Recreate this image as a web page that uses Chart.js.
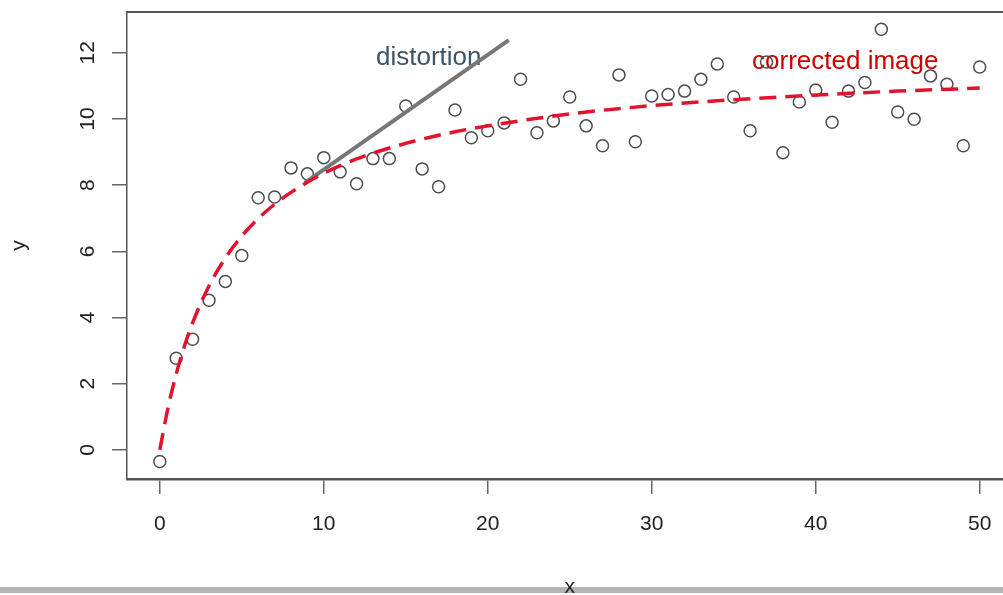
<!DOCTYPE html>
<html>
<head>
<meta charset="utf-8">
<script src="https://cdn.jsdelivr.net/npm/chart.js@4.4.1/dist/chart.umd.min.js"></script>
<style>
  html, body { margin: 0; padding: 0; background: #fff; overflow: hidden; }
  #wrap { width: 1020px; height: 598px; }
</style>
</head>
<body>
<div id="wrap"><canvas id="fitChart" width="1020" height="598"></canvas></div>
<script>
// observed points
const xObs = [0, 1, 2, 3, 4, 5, 6, 7, 8, 9, 10, 11, 12, 13, 14, 15, 16, 17, 18, 19, 20,
  21, 22, 23, 24, 25, 26, 27, 28, 29, 30, 31, 32, 33, 34, 35, 36, 37, 38, 39, 40,
  41, 42, 43, 44, 45, 46, 47, 48, 49, 50];
const yObs = [-0.35, 2.77, 3.34, 4.52, 5.09, 5.87, 7.62, 7.64, 8.52, 8.34, 8.83, 8.40, 8.04, 8.80, 8.80, 10.39, 8.49, 7.95, 10.27, 9.43, 9.64,
  9.88, 11.20, 9.58, 9.94, 10.66, 9.79, 9.19, 11.33, 9.31, 10.69, 10.74, 10.84, 11.20, 11.66, 10.66, 9.64, 11.72, 8.98, 10.51, 10.87,
  9.90, 10.84, 11.10, 12.71, 10.21, 9.99, 11.30, 11.05, 9.19, 11.57];

// red dashed curve ("corrected image")
const xCurve = [0, 0.5, 1, 1.5, 2, 3, 4, 5, 6, 7, 8, 10, 12, 14, 16, 18, 20, 25, 30, 35, 40, 45, 50];
const yCurve = [0.0, 1.27, 2.29, 3.13, 3.84, 4.95, 5.80, 6.46, 6.99, 7.42, 7.78, 8.36, 8.79, 9.12, 9.39, 9.61, 9.79, 10.15, 10.40, 10.58, 10.72, 10.84, 10.93];

// grey straight segment ("distortion")
const xDistort = [8.84, 21.28];
const yDistort = [8.07, 12.38];

const xTicks = [0, 10, 20, 30, 40, 50];
const yTicks = [0, 2, 4, 6, 8, 10, 12];

const labels = [
  { text: "distortion", x: 16.4, y: 11.84, color: "#3b5468" },
  { text: "corrected image", x: 41.8, y: 11.72, color: "#cc0000" }
];

const FONT = "'Liberation Sans', Arial, Helvetica, sans-serif";

const toXY = (xs, ys) => xs.map((x, i) => ({ x: x, y: ys[i] }));

// grey bar at the bottom, top frame line, and the two text labels
const extras = {
  id: "extras",
  beforeDraw(chart) {
    const c = chart.ctx;
    c.save();
    c.fillStyle = "#b3b3b3";
    c.fillRect(0, 587, chart.width, 6);
    c.restore();
  },
  beforeDatasetsDraw(chart) {
    const c = chart.ctx;
    const xs = chart.scales.x, ys = chart.scales.y;
    c.save();
    c.strokeStyle = "#555";
    c.lineWidth = 2;
    c.beginPath();
    c.moveTo(chart.chartArea.left, chart.chartArea.top);
    c.lineTo(chart.chartArea.right, chart.chartArea.top);
    c.moveTo(chart.chartArea.right, chart.chartArea.top);
    c.lineTo(chart.chartArea.right, chart.chartArea.bottom);
    c.stroke();
    c.font = "26px " + FONT;
    c.textAlign = "center";
    c.textBaseline = "middle";
    labels.forEach(l => {
      c.fillStyle = l.color;
      c.fillText(l.text, xs.getPixelForValue(l.x), ys.getPixelForValue(l.y));
    });
    c.restore();
  }
};

new Chart(document.getElementById("fitChart").getContext("2d"), {
  type: "scatter",
  data: {
    datasets: [
      {
        type: "line",
        data: toXY(xCurve, yCurve),
        borderColor: "#e3122d",
        borderWidth: 3.5,
        borderDash: [17, 9],
        pointRadius: 0,
        fill: false,
        cubicInterpolationMode: "monotone",
        order: 0
      },
      {
        type: "line",
        data: toXY(xDistort, yDistort),
        borderColor: "#777777",
        borderWidth: 4,
        pointRadius: 0,
        fill: false,
        order: 1
      },
      {
        data: toXY(xObs, yObs),
        pointStyle: "circle",
        pointRadius: 6,
        pointHoverRadius: 6,
        pointBorderWidth: 1.5,
        pointBorderColor: "#4d4d4d",
        pointBackgroundColor: "rgba(0,0,0,0)",
        order: 2
      }
    ]
  },
  plugins: [extras],
  options: {
    responsive: false,
    animation: false,
    events: [],
    layout: { padding: { top: 12, right: 7, left: 0, bottom: 0 } },
    plugins: {
      legend: { display: false },
      tooltip: { enabled: false }
    },
    scales: {
      x: {
        type: "linear",
        min: -2,
        max: 52,
        afterBuildTicks: s => { s.ticks = xTicks.map(v => ({ value: v })); },
        afterFit: s => { s.height = 119; s.paddingLeft = 0; s.paddingRight = 0; },
        grid: { drawOnChartArea: false, drawTicks: true, tickLength: 15, color: "#666", lineWidth: 1.5 },
        border: { display: true, color: "#555", width: 2.5 },
        ticks: { color: "#222", padding: 18, font: { family: FONT, size: 21 }, maxRotation: 0 },
        title: { display: true, text: "x", color: "#222", padding: 0, font: { family: FONT, size: 21, lineHeight: 1 } }
      },
      y: {
        type: "linear",
        min: -0.88,
        max: 13.23,
        afterBuildTicks: s => { s.ticks = yTicks.map(v => ({ value: v })); },
        afterFit: s => { s.width = 127; s.paddingTop = 0; s.paddingBottom = 0; },
        grid: { drawOnChartArea: false, drawTicks: true, tickLength: 15, color: "#666", lineWidth: 1.5 },
        border: { display: true, color: "#555", width: 1.5 },
        ticks: { color: "#222", padding: 12, crossAlign: "center", minRotation: 90, maxRotation: 90, font: { family: FONT, size: 21 } },
        title: { display: true, text: "y", color: "#222", padding: 7, font: { family: FONT, size: 21, lineHeight: 1.2 } }
      }
    }
  }
});
</script>
</body>
</html>
